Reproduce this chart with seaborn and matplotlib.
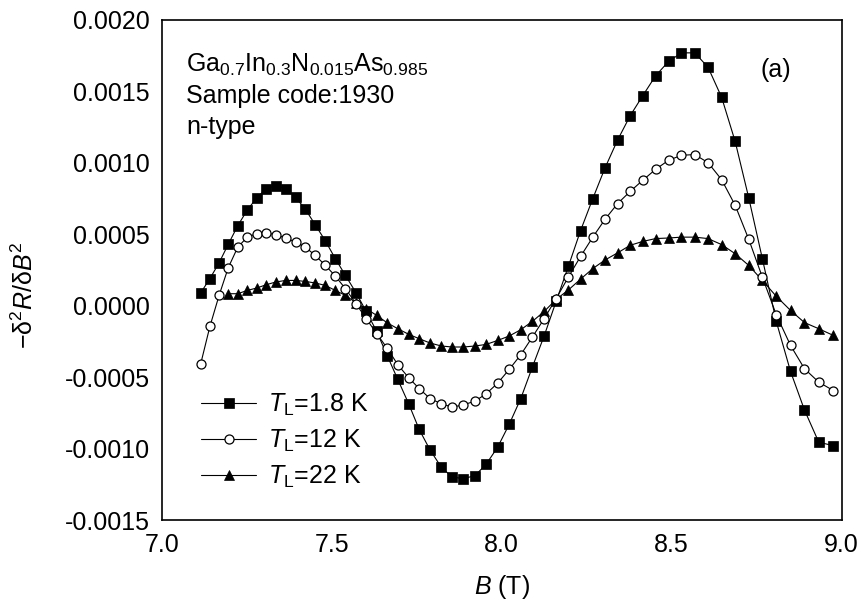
import matplotlib
matplotlib.use("Agg")
import matplotlib.pyplot as plt
import matplotlib.ticker as mticker
import seaborn as sns

# ---- data ----
B = [7.114, 7.141, 7.168, 7.195, 7.223, 7.251, 7.279, 7.307, 7.335, 7.364,
     7.393, 7.422, 7.451, 7.481, 7.510, 7.540, 7.571, 7.601, 7.632, 7.663,
     7.694, 7.726, 7.757, 7.789, 7.822, 7.854, 7.887, 7.921, 7.954, 7.988,
     8.022, 8.056, 8.090, 8.125, 8.160, 8.196, 8.232, 8.268, 8.304, 8.341,
     8.378, 8.415, 8.453, 8.491, 8.529, 8.568, 8.607, 8.647, 8.687, 8.727,
     8.767, 8.808, 8.850, 8.891, 8.933, 8.976]

T18 = [0.00009, 0.00019, 0.00030, 0.00043, 0.00056, 0.00067, 0.000755, 0.00082, 0.00084, 0.00082,
       0.00076, 0.000675, 0.000567, 0.000453, 0.00033, 0.000212, 0.000091, -0.00004, -0.00018, -0.00035,
       -0.000516, -0.000686, -0.000866, -0.00101, -0.00113, -0.0012, -0.00121, -0.00119, -0.00111, -0.00099,
       -0.00083, -0.00065, -0.00043, -0.00021, 0.00003, 0.000275, 0.000526, 0.00075, 0.000965, 0.00116,
       0.00133, 0.00147, 0.00161, 0.00171, 0.00177, 0.00177, 0.00167, 0.00146, 0.00115, 0.000755,
       0.00033, -0.00011, -0.00046, -0.00073, -0.000955, -0.00098]

T12 = [-0.000406, -0.000145, 0.000072, 0.000266, 0.00041, 0.00048, 0.000505, 0.00051, 0.000497, 0.000474,
       0.000446, 0.00041, 0.000352, 0.000282, 0.000208, 0.000119, 0.000014, -0.00009, -0.000196, -0.000298,
       -0.000413, -0.000504, -0.00058, -0.00065, -0.000686, -0.00071, -0.000694, -0.000668, -0.000617, -0.000542,
       -0.000446, -0.000343, -0.00022, -0.00009, 0.00005, 0.0002, 0.000345, 0.00048, 0.000605, 0.000715,
       0.0008, 0.000878, 0.000955, 0.001018, 0.001053, 0.001058, 0.001002, 0.000883, 0.000703, 0.000465,
       0.0002, -0.000063, -0.000278, -0.000441, -0.000535, -0.000594]

# 22 K series starts at the 4th field value
T22_START = 3
T22 = [0.000084, 0.000084, 0.000107, 0.000124, 0.000147, 0.000166, 0.000177, 0.000177, 0.00017, 0.000159,
       0.000142, 0.000107, 0.000072, 0.000021, -0.000021, -0.000068, -0.00012, -0.000161, -0.0002, -0.000231,
       -0.000261, -0.000282, -0.000289, -0.000289, -0.000282, -0.000271, -0.000243, -0.000212, -0.000168, -0.00011,
       -0.00004, 0.000044, 0.00011, 0.000186, 0.00026, 0.00032, 0.00037, 0.000423, 0.00045, 0.00047,
       0.000474, 0.00048, 0.00048, 0.00047, 0.000428, 0.000364, 0.000282, 0.000177, 0.000066, -0.000033,
       -0.000118, -0.000161, -0.000208]

LABELS = [r"$T_\mathrm{L}$=1.8 K", r"$T_\mathrm{L}$=12 K", r"$T_\mathrm{L}$=22 K"]
X_TICKS = [7.0, 7.5, 8.0, 8.5, 9.0]
Y_TICKS = [-0.0015, -0.0010, -0.0005, 0.0, 0.0005, 0.0010, 0.0015, 0.0020]

# ---- style ----
sns.set_theme(style="white")
plt.rcParams["font.family"] = ["Liberation Sans", "DejaVu Sans"]
plt.rcParams["mathtext.fontset"] = "custom"
plt.rcParams["mathtext.rm"] = "Liberation Sans"
plt.rcParams["mathtext.it"] = "Liberation Sans:italic"
plt.rcParams["mathtext.bf"] = "Liberation Sans:bold"
plt.rcParams["axes.unicode_minus"] = False
plt.rcParams["text.color"] = "black"
plt.rcParams["axes.labelcolor"] = "black"
plt.rcParams["xtick.color"] = "black"
plt.rcParams["ytick.color"] = "black"

FS = 18
fig = plt.figure(figsize=(8.66, 6.13), dpi=100)
ax = fig.add_axes([162 / 866, 1 - 520 / 613, (841.5 - 162) / 866, 500 / 613])

common = dict(color="black", linewidth=0.8, estimator=None, ax=ax)
sns.lineplot(x=B, y=T18, marker="s", markersize=6.6, markerfacecolor="black",
             markeredgecolor="black", markeredgewidth=0.5, label=LABELS[0], zorder=2, **common)
sns.lineplot(x=B[T22_START:], y=T22, marker="^", markersize=7.2, markerfacecolor="black",
             markeredgecolor="black", markeredgewidth=0.5, label=LABELS[2], zorder=2.5, **common)
sns.lineplot(x=B, y=T12, marker="o", markersize=6.5, markerfacecolor="white",
             markeredgecolor="black", markeredgewidth=0.9, label=LABELS[1], zorder=3, **common)

ax.set_xlim(7.0, 9.0)
ax.set_ylim(-0.0015, 0.0020)
ax.set_xticks(X_TICKS)
ax.set_yticks(Y_TICKS)
ax.xaxis.set_minor_locator(mticker.MultipleLocator(0.25))
ax.yaxis.set_minor_locator(mticker.MultipleLocator(0.00025))
ax.xaxis.set_major_formatter(mticker.FuncFormatter(lambda v, p: f"{round(v, 1):.1f}"))
ax.yaxis.set_major_formatter(mticker.FuncFormatter(
    lambda v, p: f"{round(v, 6):.4f}".replace("-0.0000", "0.0000")))

ax.tick_params(which="both", direction="in", top=False, right=False,
               colors="black", labelsize=FS, width=1.0)
ax.tick_params(which="major", length=7, pad=9)
ax.tick_params(which="minor", length=4)
for s in ax.spines.values():
    s.set_color("black")
    s.set_linewidth(1.2)

ax.set_xlabel(r"$B$ (T)", fontsize=FS, color="black", labelpad=12)
ax.set_ylabel(r"$-\mathrm{\delta}^2 R/\mathrm{\delta} B^2$", fontsize=FS, color="black")
ax.yaxis.set_label_coords(-0.183, 0.45)

# annotations
ax.text(0.036, 0.896, r"Ga$_{0.7}$In$_{0.3}$N$_{0.015}$As$_{0.985}$", transform=ax.transAxes,
        fontsize=FS, color="black", va="baseline")
ax.text(0.036, 0.834, "Sample code:1930", transform=ax.transAxes,
        fontsize=FS, color="black", va="baseline")
ax.text(0.036, 0.772, "n-type", transform=ax.transAxes,
        fontsize=FS, color="black", va="baseline")
ax.text(0.881, 0.9, "(a)", transform=ax.transAxes, fontsize=FS, color="black", va="center")

handles, labels = ax.get_legend_handles_labels()
order = [labels.index(l) for l in LABELS]
leg = ax.legend([handles[i] for i in order], [labels[i] for i in order],
                loc="lower left", bbox_to_anchor=(0.058, 0.06), frameon=False,
                fontsize=FS, handlelength=2.2, handletextpad=0.45, labelspacing=0.4,
                borderaxespad=0, borderpad=0)
for t in leg.get_texts():
    t.set_color("black")

fig.savefig("out.png", dpi=100)
